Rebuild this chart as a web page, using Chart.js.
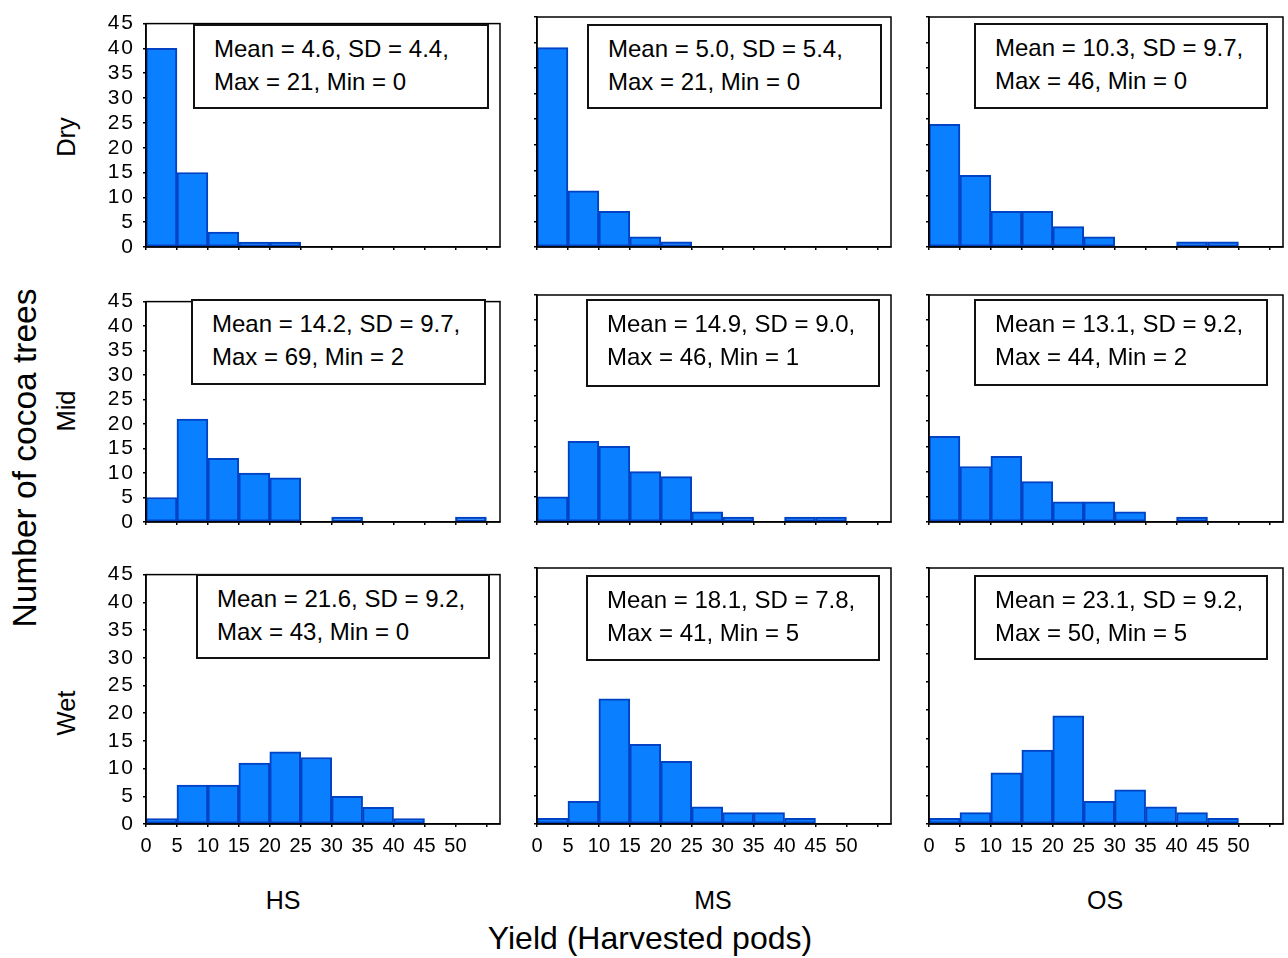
<!DOCTYPE html>
<html>
<head>
<meta charset="utf-8">
<script src="https://cdn.jsdelivr.net/npm/chart.js@4.4.1/dist/chart.umd.min.js"></script>
<style>
body{margin:0;width:1288px;height:958px;position:relative;overflow:hidden;background:#fff;font-family:'Liberation Sans',Arial,sans-serif;color:#000}
canvas{position:absolute}
.lbl{position:absolute;white-space:nowrap;transform:translate(-50%,-50%);z-index:2}
.rot{transform:translate(-50%,-50%) rotate(-90deg)}
.box{position:absolute;z-index:2;border:2px solid #111;background:#fff;box-sizing:border-box;padding:5.5px 0 0 19px;font-size:24px;line-height:33px;white-space:nowrap}
</style>
</head>
<body>
<script>
// bins of 5 pods, 0-5 ... 50-55
const binStart = [0, 5, 10, 15, 20, 25, 30, 35, 40, 45, 50];
const yTicks = [0, 5, 10, 15, 20, 25, 30, 35, 40, 45];
const xTickLabels = ['0', '5', '10', '15', '20', '25', '30', '35', '40', '45', '50'];
const seasons = ['Dry', 'Mid', 'Wet'];
const groups = ['HS', 'MS', 'OS'];

// number of trees per bin
const dryHS = [40, 15, 3, 1, 1, 0, 0, 0, 0, 0, 0];
const dryMS = [39, 11, 7, 2, 1, 0, 0, 0, 0, 0, 0];
const dryOS = [24, 14, 7, 7, 4, 2, 0, 0, 1, 1, 0];
const midHS = [5, 21, 13, 10, 9, 0, 1, 0, 0, 0, 1];
const midMS = [5, 16, 15, 10, 9, 2, 1, 0, 1, 1, 0];
const midOS = [17, 11, 13, 8, 4, 4, 2, 0, 1, 0, 0];
const wetHS = [1, 7, 7, 11, 13, 12, 5, 3, 1, 0, 0];
const wetMS = [1, 4, 22, 14, 11, 3, 2, 2, 1, 0, 0];
const wetOS = [1, 2, 9, 13, 19, 4, 6, 3, 2, 1, 0];

const statsDryHS = ['Mean = 4.6, SD = 4.4,', 'Max = 21, Min = 0'];
const statsDryMS = ['Mean = 5.0, SD = 5.4,', 'Max = 21, Min = 0'];
const statsDryOS = ['Mean = 10.3, SD = 9.7,', 'Max = 46, Min = 0'];
const statsMidHS = ['Mean = 14.2, SD = 9.7,', 'Max = 69, Min = 2'];
const statsMidMS = ['Mean = 14.9, SD = 9.0,', 'Max = 46, Min = 1'];
const statsMidOS = ['Mean = 13.1, SD = 9.2,', 'Max = 44, Min = 2'];
const statsWetHS = ['Mean = 21.6, SD = 9.2,', 'Max = 43, Min = 0'];
const statsWetMS = ['Mean = 18.1, SD = 7.8,', 'Max = 41, Min = 5'];
const statsWetOS = ['Mean = 23.1, SD = 9.2,', 'Max = 50, Min = 5'];

const counts = [[dryHS, dryMS, dryOS], [midHS, midMS, midOS], [wetHS, wetMS, wetOS]];
const stats = [[statsDryHS, statsDryMS, statsDryOS], [statsMidHS, statsMidMS, statsMidOS], [statsWetHS, statsWetMS, statsWetOS]];

// layout in px
const colLeft = [146, 537, 929];
const colWidth = 354;
const rowTop = [17, 295, 568];
const rowBottom = [247, 522, 824];
const boxRects = [
  [[193, 24, 296, 85], [587, 24, 295, 85], [974, 23, 294, 86]],
  [[191, 299, 295, 86], [586, 299, 294, 88], [974, 299, 294, 87]],
  [[196, 574, 294, 85], [586, 575, 294, 86], [974, 575, 294, 85]]
];
const PAD_L = 50, PAD_T = 14, PAD_R = 4, PAD_B = 40;
const FONT = "'Liberation Sans', Arial, sans-serif";

// box round each panel + slightly wider y labels
const frame = {
  id: 'frame',
  beforeDraw(c) { c.ctx.letterSpacing = '2px'; },
  beforeDatasetsDraw(c) { c.ctx.letterSpacing = '0px'; },
  afterDraw(c) {
    const a = c.chartArea, ctx = c.ctx;
    ctx.save();
    ctx.strokeStyle = '#000';
    ctx.lineWidth = 1.5;
    ctx.strokeRect(a.left, a.top, a.right - a.left, a.bottom - a.top);
    ctx.restore();
  }
};

function addLabel(text, x, y, size, rotate) {
  const d = document.createElement('div');
  d.className = rotate ? 'lbl rot' : 'lbl';
  d.textContent = text;
  d.style.left = x + 'px';
  d.style.top = y + 'px';
  d.style.fontSize = size + 'px';
  document.body.appendChild(d);
}

for (let r = 0; r < 3; r++) {
  for (let c = 0; c < 3; c++) {
    const h = rowBottom[r] - rowTop[r];
    const cv = document.createElement('canvas');
    cv.width = colWidth + PAD_L + PAD_R;
    cv.height = h + PAD_T + PAD_B;
    cv.style.left = (colLeft[c] - PAD_L) + 'px';
    cv.style.top = (rowTop[r] - PAD_T) + 'px';
    cv.style.width = cv.width + 'px';
    cv.style.height = cv.height + 'px';
    document.body.appendChild(cv);

    const vals = counts[r][c];
    new Chart(cv, {
      type: 'bar',
      data: {
        datasets: [{
          data: binStart.map((s, i) => ({ x: s + 2.5, y: vals[i] })),
          backgroundColor: '#0a7fff',
          borderColor: '#0042c4',
          borderWidth: 2,
          borderSkipped: false,
          barPercentage: 1,
          categoryPercentage: 1
        }]
      },
      options: {
        responsive: false,
        animation: false,
        devicePixelRatio: 1,
        layout: { padding: { top: PAD_T, right: PAD_R, left: 0, bottom: 0 } },
        plugins: { legend: { display: false }, tooltip: { enabled: false } },
        scales: {
          x: {
            type: 'linear', min: 0, max: 57.2, offset: false,
            afterFit(s) { s.height = PAD_B; },
            ticks: {
              stepSize: 5, includeBounds: false, autoSkip: false, maxRotation: 0,
              display: r === 2, padding: 7, z: 1, color: '#000',
              font: { family: FONT, size: 20 },
              callback: (v) => { const i = xTickLabels.indexOf(String(v)); return i >= 0 ? xTickLabels[i] : ''; }
            },
            grid: { drawOnChartArea: false, tickLength: 3, color: '#000', lineWidth: 1.5, offset: false },
            border: { color: '#000', width: 1.5 }
          },
          y: {
            min: 0, max: 45,
            afterFit(s) { s.width = PAD_L; },
            ticks: {
              stepSize: 5, autoSkip: false, display: c === 0, padding: 8, color: '#000',
              font: { family: FONT, size: 21 },
              callback: (v) => yTicks.includes(v) ? String(v) : ''
            },
            grid: { drawOnChartArea: false, tickLength: 3, color: '#000', lineWidth: 1.5 },
            border: { color: '#000', width: 1.5 }
          }
        }
      },
      plugins: [frame]
    });

    const b = boxRects[r][c];
    const box = document.createElement('div');
    box.className = 'box';
    box.style.left = b[0] + 'px';
    box.style.top = b[1] + 'px';
    box.style.width = b[2] + 'px';
    box.style.height = b[3] + 'px';
    stats[r][c].forEach(line => {
      const ln = document.createElement('div');
      ln.textContent = line;
      box.appendChild(ln);
    });
    document.body.appendChild(box);
  }
}

// axis and panel titles
addLabel('Number of cocoa trees', 25, 458, 33.5, true);
addLabel(seasons[0], 66, 137, 25.5, true);
addLabel(seasons[1], 66, 411, 25.5, true);
addLabel(seasons[2], 66, 713, 25.5, true);
addLabel(groups[0], 283, 900, 25, false);
addLabel(groups[1], 713, 900, 25, false);
addLabel(groups[2], 1105, 900, 25, false);
addLabel('Yield (Harvested pods)', 650, 938, 32, false);
</script>
</body>
</html>
